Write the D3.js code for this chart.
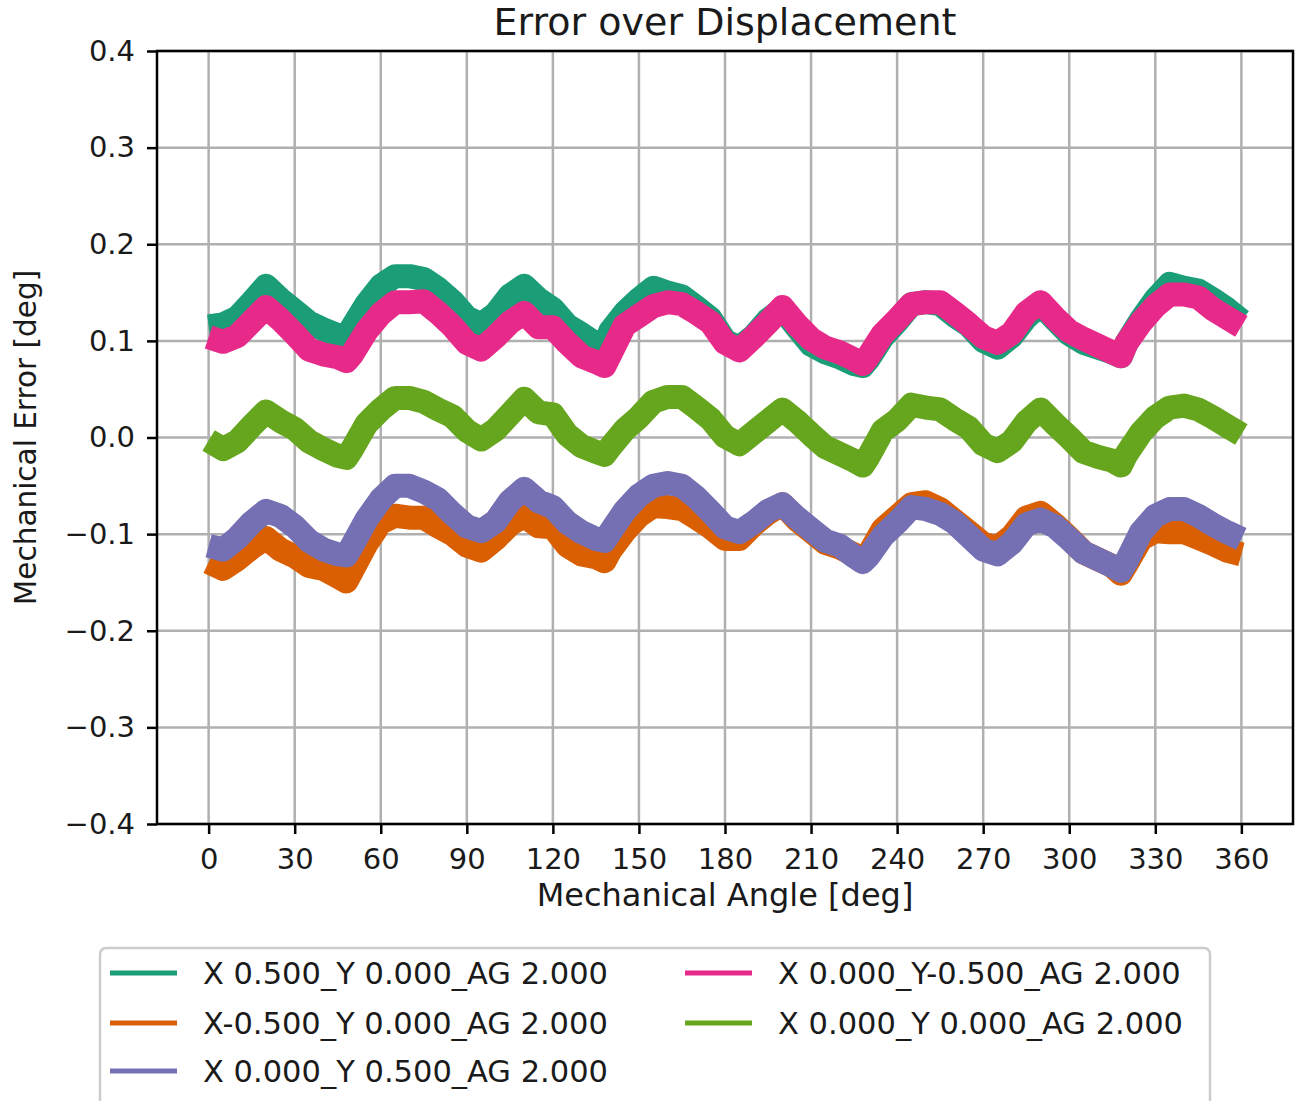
<!DOCTYPE html>
<html>
<head>
<meta charset="utf-8">
<script src="https://cdn.jsdelivr.net/npm/d3@7"></script>
<style>
  body { margin: 0; background: #fff; }
  text { font-family: "DejaVu Sans", sans-serif; fill: #1a1a1a; }
</style>
</head>
<body>
<div id="chart"></div>
<script>
// sampled angles (deg), shared by all series
var angles = [0, 5, 10, 15, 20, 25, 30, 35, 40, 45, 48,
  50, 55, 60, 65, 70, 75, 80, 85, 90, 95, 100, 105, 110, 115, 120, 125, 130, 135, 138,
  140, 145, 150, 155, 160, 165, 170, 175, 180, 185, 190, 195, 200, 205, 210, 215, 220, 225, 228,
  230, 235, 240, 245, 250, 255, 260, 265, 270, 275, 280, 285, 290, 295, 300, 305, 310, 315, 318,
  320, 325, 330, 335, 340, 345, 350, 355, 360];

var errX05 = [0.115, 0.117, 0.124, 0.140, 0.157, 0.143, 0.131, 0.119, 0.112, 0.106, 0.104,
  0.114, 0.138, 0.157, 0.167, 0.167, 0.164, 0.154, 0.141, 0.124, 0.117, 0.128, 0.147, 0.157, 0.143, 0.133, 0.116, 0.107, 0.097, 0.094,
  0.110, 0.129, 0.143, 0.155, 0.150, 0.146, 0.135, 0.123, 0.100, 0.093, 0.105, 0.122, 0.133, 0.114, 0.096, 0.088, 0.083, 0.076, 0.074,
  0.081, 0.104, 0.120, 0.138, 0.140, 0.138, 0.126, 0.116, 0.100, 0.093, 0.105, 0.124, 0.138, 0.122, 0.107, 0.098, 0.093, 0.088, 0.084,
  0.098, 0.122, 0.143, 0.159, 0.155, 0.152, 0.143, 0.133, 0.121];

var errXm05 = [-0.129, -0.136, -0.126, -0.114, -0.104, -0.116, -0.123, -0.133, -0.136, -0.144, -0.149,
  -0.138, -0.110, -0.088, -0.081, -0.083, -0.083, -0.092, -0.100, -0.112, -0.117, -0.105, -0.090, -0.081, -0.092, -0.093, -0.112, -0.121, -0.124, -0.128,
  -0.117, -0.097, -0.081, -0.071, -0.072, -0.074, -0.083, -0.093, -0.105, -0.105, -0.090, -0.078, -0.069, -0.085, -0.097, -0.109, -0.114, -0.121, -0.126,
  -0.121, -0.095, -0.082, -0.069, -0.067, -0.074, -0.086, -0.098, -0.110, -0.114, -0.102, -0.083, -0.078, -0.090, -0.104, -0.119, -0.126, -0.133, -0.141,
  -0.131, -0.105, -0.097, -0.098, -0.098, -0.104, -0.110, -0.117, -0.121];

var errY05 = [-0.112, -0.116, -0.104, -0.088, -0.076, -0.081, -0.092, -0.107, -0.116, -0.121, -0.122,
  -0.112, -0.085, -0.064, -0.050, -0.050, -0.056, -0.064, -0.079, -0.092, -0.097, -0.087, -0.066, -0.053, -0.066, -0.072, -0.088, -0.098, -0.105, -0.107,
  -0.098, -0.076, -0.060, -0.050, -0.047, -0.050, -0.062, -0.077, -0.093, -0.098, -0.088, -0.076, -0.069, -0.083, -0.095, -0.107, -0.112, -0.123, -0.129,
  -0.123, -0.102, -0.088, -0.072, -0.074, -0.079, -0.088, -0.102, -0.116, -0.121, -0.109, -0.090, -0.085, -0.092, -0.105, -0.119, -0.126, -0.133, -0.138,
  -0.128, -0.098, -0.081, -0.074, -0.074, -0.081, -0.090, -0.098, -0.105];

var errYm05 = [0.104, 0.099, 0.105, 0.120, 0.135, 0.122, 0.107, 0.091, 0.086, 0.083, 0.079,
  0.086, 0.110, 0.128, 0.140, 0.140, 0.141, 0.129, 0.115, 0.098, 0.091, 0.104, 0.119, 0.129, 0.114, 0.114, 0.098, 0.084, 0.078, 0.074,
  0.086, 0.116, 0.126, 0.136, 0.140, 0.138, 0.129, 0.119, 0.098, 0.090, 0.104, 0.119, 0.135, 0.117, 0.102, 0.093, 0.088, 0.081, 0.076,
  0.084, 0.107, 0.122, 0.138, 0.140, 0.140, 0.129, 0.117, 0.104, 0.098, 0.108, 0.129, 0.140, 0.124, 0.110, 0.102, 0.095, 0.088, 0.084,
  0.098, 0.119, 0.136, 0.148, 0.148, 0.145, 0.133, 0.124, 0.115];

var errCentre = [-0.003, -0.012, -0.004, 0.012, 0.027, 0.017, 0.009, -0.004, -0.012, -0.019, -0.021,
  -0.012, 0.014, 0.029, 0.041, 0.041, 0.037, 0.029, 0.022, 0.007, -0.002, 0.008, 0.024, 0.040, 0.026, 0.024, 0.003, -0.009, -0.015, -0.018,
  -0.010, 0.008, 0.021, 0.037, 0.042, 0.042, 0.031, 0.019, 0.001, -0.007, 0.005, 0.017, 0.029, 0.017, 0.003, -0.010, -0.017, -0.024, -0.029,
  -0.020, 0.007, 0.018, 0.034, 0.031, 0.029, 0.019, 0.010, -0.007, -0.014, -0.004, 0.016, 0.029, 0.014, 0.000, -0.015, -0.020, -0.024, -0.029,
  -0.017, 0.005, 0.021, 0.031, 0.033, 0.029, 0.021, 0.012, 0.003];

var labels = ["X 0.500_Y 0.000_AG 2.000", "X-0.500_Y 0.000_AG 2.000", "X 0.000_Y 0.500_AG 2.000",
  "X 0.000_Y-0.500_AG 2.000", "X 0.000_Y 0.000_AG 2.000"];
var colors = ["#1b9e77", "#d95f02", "#7570b3", "#e7298a", "#66a61e"];
var xTicks = [0, 30, 60, 90, 120, 150, 180, 210, 240, 270, 300, 330, 360];
var yTicks = [-0.4, -0.3, -0.2, -0.1, 0.0, 0.1, 0.2, 0.3, 0.4];

var seriesValues = [errX05, errXm05, errY05, errYm05, errCentre];

// set the dimensions and margins of the graph
var margin = { top: 51, right: 2, bottom: 277, left: 157 },
  width = 1295 - margin.left - margin.right,
  height = 1101 - margin.top - margin.bottom;

var svg = d3.select("#chart")
  .append("svg")
  .attr("width", 1295)
  .attr("height", 1101);

var g = svg.append("g")
  .attr("transform", "translate(" + margin.left + "," + margin.top + ")");

var xScale = d3.scaleLinear().domain([-18, 378]).range([0, width]);
var yScale = d3.scaleLinear().domain([-0.4, 0.4]).range([height, 0]);

// grid
g.append("g")
  .selectAll("line")
  .data(xTicks)
  .enter()
  .append("line")
  .attr("x1", function(d) { return xScale(d); })
  .attr("x2", function(d) { return xScale(d); })
  .attr("y1", 0)
  .attr("y2", height)
  .attr("stroke", "#b0b0b0")
  .attr("stroke-width", 2.5);

g.append("g")
  .selectAll("line")
  .data(yTicks)
  .enter()
  .append("line")
  .attr("x1", 0)
  .attr("x2", width)
  .attr("y1", function(d) { return yScale(d); })
  .attr("y2", function(d) { return yScale(d); })
  .attr("stroke", "#b0b0b0")
  .attr("stroke-width", 2.5);

// the series, drawn as thick noisy bands
var line = d3.line()
  .x(function(d) { return xScale(d[0]); })
  .y(function(d) { return yScale(d[1]); });

seriesValues.forEach(function(vals, i) {
  g.append("path")
    .datum(angles.map(function(a, j) { return [a, vals[j]]; }))
    .attr("d", line)
    .attr("fill", "none")
    .attr("stroke", colors[i])
    .attr("stroke-width", 24)
    .attr("stroke-linejoin", "round")
    .attr("stroke-linecap", "butt");
});

// axes
var xAxis = g.append("g")
  .attr("transform", "translate(0," + height + ")")
  .call(d3.axisBottom(xScale).tickValues(xTicks).tickSize(10).tickPadding(14).tickFormat(d3.format("d")));

var yAxis = g.append("g")
  .call(d3.axisLeft(yScale).tickValues(yTicks).tickSize(10).tickPadding(12).tickFormat(d3.format(".1f")));

[xAxis, yAxis].forEach(function(ax) {
  ax.select(".domain").remove();
  ax.selectAll(".tick line").attr("stroke", "#000").attr("stroke-width", 2.5);
  ax.selectAll(".tick text")
    .style("font-size", "29px")
    .style("font-family", "DejaVu Sans")
    .attr("fill", "#1a1a1a");
});

// frame
g.append("rect")
  .attr("width", width)
  .attr("height", height)
  .attr("fill", "none")
  .attr("stroke", "#000")
  .attr("stroke-width", 2.5);

// title and axis labels
svg.append("text")
  .attr("x", margin.left + width / 2)
  .attr("y", 35)
  .attr("text-anchor", "middle")
  .style("font-size", "38px")
  .text("Error over Displacement");

svg.append("text")
  .attr("x", margin.left + width / 2)
  .attr("y", 906)
  .attr("text-anchor", "middle")
  .style("font-size", "32px")
  .text("Mechanical Angle [deg]");

svg.append("text")
  .attr("transform", "translate(36," + (margin.top + height / 2) + ")rotate(-90)")
  .attr("text-anchor", "middle")
  .style("font-size", "29.5px")
  .text("Mechanical Error [deg]");

// legend
var legend = svg.append("g");
legend.append("rect")
  .attr("x", 100)
  .attr("y", 948)
  .attr("width", 1110)
  .attr("height", 200)
  .attr("rx", 6)
  .attr("fill", "#fff")
  .attr("stroke", "#cccccc")
  .attr("stroke-width", 2.5);

var legendPos = [[110, 973], [110, 1023], [110, 1071], [685, 973], [685, 1023]];
labels.forEach(function(lab, i) {
  var p = legendPos[i];
  legend.append("line")
    .attr("x1", p[0])
    .attr("x2", p[0] + 67)
    .attr("y1", p[1])
    .attr("y2", p[1])
    .attr("stroke", colors[i])
    .attr("stroke-width", 5);
  legend.append("text")
    .attr("x", p[0] + 93)
    .attr("y", p[1] + 11)
    .style("font-size", "30.5px")
    .style("white-space", "pre")
    .text(lab);
});
</script>
</body>
</html>
